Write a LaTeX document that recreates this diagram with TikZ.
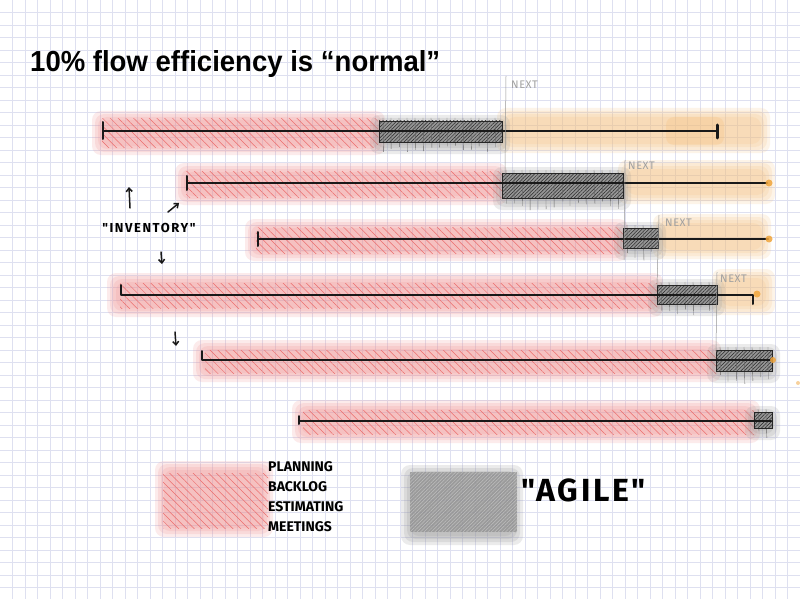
\documentclass[tikz,border=0pt]{standalone}
\usepackage{fontspec}
\usepackage{graphicx}
\usetikzlibrary{patterns.meta,arrows.meta}
\newfontfamily\titlefont{Liberation Sans}
\newfontfamily\handfont{Fira Sans}
\definecolor{gridc}{RGB}{222,224,240}
\definecolor{washred}{RGB}{238,140,140}
\definecolor{hatchred}{RGB}{236,110,110}
\definecolor{washorange}{RGB}{245,190,120}
\definecolor{dotorange}{RGB}{240,165,60}
\definecolor{washgray}{RGB}{140,140,140}
\definecolor{boxgray}{RGB}{150,150,150}
\definecolor{hatchgray}{RGB}{40,40,40}
\definecolor{nextgray}{RGB}{150,150,150}
\definecolor{ink}{RGB}{25,25,25}
\newcommand\wash[5]{%
  \foreach \k in {0,3,6,9}{\fill[#1,opacity=0.17,rounded corners=9pt] ({#2-5+\k},{#3-5+\k}) rectangle ({#4+5-\k},{#5+5-\k});}}
\newcommand\redhatch[4]{%
  \fill[pattern={Lines[angle=-45,distance=5.5pt,line width=0.5pt]},pattern color=hatchred] (#1,#2) rectangle (#3,#4);}
\newcommand\agile[4]{%
  \wash{washgray}{#1-4}{#2-1}{#3+3}{#4+7}
  \fill[boxgray] (#1,#2) rectangle (#3,#4);
  \fill[pattern={Lines[angle=45,distance=2.5pt,line width=0.5pt]},pattern color=hatchgray] (#1,#2) rectangle (#3,#4);
  \pgfmathtruncatemacro\nt{max(1,(#3-#1)/8)}
  \foreach \i in {1,...,\nt}{\draw[black!60,line width=0.4pt] ({#1+\i*8-4},{#2-3}) -- ({#1+\i*8-4+rnd},{#4+3+10*rnd});}
  \draw[black!85,line width=0.7pt] (#1,#2) rectangle (#3,#4);}
\tikzset{
  bar/.style={ink,line width=2pt,line cap=round,line join=round},
  nextline/.style={nextgray,line width=0.5pt},
  nextlabel/.style={font=\handfont\fontsize{11}{11}\selectfont\addfontfeature{LetterSpace=5},text=nextgray!90,inner sep=0pt},
  arr/.style={ink,line width=1.5pt,line cap=round,-{Straight Barb[length=3.5pt,width=6pt]}},
  odot/.style={dotorange,opacity=0.85}
}
\begin{document}
\begin{tikzpicture}[x=1pt,y=-1pt]
\useasboundingbox (0,0) rectangle (800,599);
\fill[white] (0,0) rectangle (800,599);
\pgfmathsetseed{11}
\foreach \i in {1,...,63}{\draw[gridc,line width=0.6pt] (\i*12.5,0) -- (\i*12.5,599);}
\foreach \j in {1,...,47}{\draw[gridc,line width=0.6pt] (0,\j*12.5) -- (800,\j*12.5);}

\node[anchor=base west,inner sep=0pt] (title) at (30,72) {\resizebox{410pt}{21pt}{\titlefont\bfseries 10\% flow efficiency is “normal”}};

% row 1
\wash{washred}{97}{116}{380}{150}
\redhatch{102}{119}{378}{147}
\wash{washorange}{502}{113}{765}{148}
\fill[washorange,opacity=0.25,rounded corners=8pt] (666,117) rectangle (724,145);
\agile{379}{121}{502}{142}
\draw[bar] (103,131) -- (717,131);
\draw[bar] (103,122) -- (103,139);
\draw[ink,line width=3pt,line cap=round] (717,125) -- (717,138);

% row 2
\wash{washred}{180}{168}{502}{200}
\redhatch{186}{171}{502}{197}
\wash{washorange}{623}{165}{770}{199}
\agile{502}{173}{623}{198}
\draw[bar] (187,183) -- (767,183);
\draw[bar] (187,176) -- (187,190);
\fill[odot] (769,183) circle (3.5);

% row 3
\wash{washred}{250}{224}{623}{256}
\redhatch{256}{227}{623}{253}
\wash{washorange}{658}{219}{766}{254}
\agile{623}{228}{658}{248}
\draw[bar] (258,239) -- (768,239);
\draw[bar] (258,232) -- (258,246);
\fill[odot] (769,239) circle (3.5);

% row 4
\wash{washred}{112}{278}{658}{312}
\redhatch{120}{283}{657}{308}
\wash{washorange}{717}{274}{770}{310}
\agile{657}{285}{717}{304}
\fill[odot] (757,294) circle (3.5);
\draw[bar] (121,285) -- (121,295) -- (753,295) -- (753,304);

% row 5
\wash{washred}{198}{345}{716}{377}
\redhatch{205}{350}{716}{373}
\agile{716}{350}{772}{371}
\draw[bar] (202,351) -- (202,360) -- (771,360);
\fill[odot] (773,360) circle (3);

% row 6
\wash{washred}{297}{405}{755}{438}
\redhatch{303}{410}{754}{434}
\agile{754}{412}{772}{428}
\draw[bar] (299,421) -- (771,421);
\draw[bar] (299,416) -- (299,424);

\fill[odot,opacity=0.5] (798,383) circle (2);

% NEXT markers
\draw[nextline] (506,76) -- (505,174);
\node[nextlabel,anchor=west] (n1) at (511,85) {NEXT};
\draw[nextline] (625,160) -- (624,260);
\node[nextlabel,anchor=west] (n2) at (628,166) {NEXT};
\draw[nextline] (659,215) -- (657,286);
\node[nextlabel,anchor=west] (n3) at (665,223) {NEXT};
\draw[nextline] (717,272) -- (716,352);
\node[nextlabel,anchor=west] (n4) at (720,279) {NEXT};

% inventory annotation
\node[font=\handfont\bfseries\fontsize{13}{13}\selectfont\addfontfeature{LetterSpace=12},inner sep=0pt] (inv) at (149,228) {"INVENTORY"};
\coordinate (a1s) at (130,208); \coordinate (a1e) at (129,187);
\coordinate (a2s) at (168,212); \coordinate (a2e) at (179,203);
\coordinate (a3s) at (161,252); \coordinate (a3e) at (162,264);
\coordinate (a4s) at (175,332); \coordinate (a4e) at (176,346);
\draw[arr] (a1s) -- (a1e);
\draw[arr] (a2s) -- (a2e);
\draw[arr] (a3s) -- (a3e);
\draw[arr] (a4s) -- (a4e);

% legend
\wash{washred}{160}{466}{268}{532}
\redhatch{163}{473}{268}{528}
\node[anchor=north west,align=left,inner sep=0pt,font=\handfont\bfseries\fontsize{14}{20}\selectfont] (leg) at (268,461) {PLANNING\\BACKLOG\\ESTIMATING\\MEETINGS};
\wash{washgray}{406}{470}{518}{540}
\fill[black!45,opacity=0.7] (410,472) rectangle (517,532);
\fill[pattern={Lines[angle=45,distance=2.5pt,line width=0.5pt]},pattern color=black!25] (410,472) rectangle (517,532);
\node[anchor=west,inner sep=0pt,font=\handfont\bfseries\fontsize{32}{32}\selectfont\addfontfeature{LetterSpace=8}] (ag) at (521,490) {"AGILE"};
\end{tikzpicture}
\end{document}
